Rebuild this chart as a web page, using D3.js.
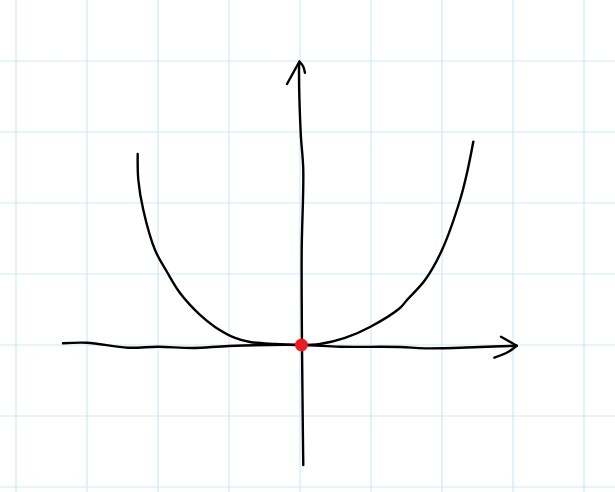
<!DOCTYPE html>
<html>
<head>
<meta charset="utf-8">
<script src="https://cdn.jsdelivr.net/npm/d3@7"></script>
<style>
html,body{margin:0;padding:0;background:#fff;}
svg{display:block;}
</style>
</head>
<body>
<svg id="chart" width="615" height="492"></svg>
<script>
// Grid lines (in grid units)
const gridX = [-4, -3, -2, -1, 0, 1, 2, 3, 4];
const gridY = [-2, -1, 0, 1, 2, 3, 4];

// Hand-drawn curve: left branch and right branch (grid units)
const leftBranch = [
  [-2.286, 2.690], [-2.277, 2.324], [-2.207, 1.901], [-2.042, 1.338],
  [-1.873, 1.028], [-1.690, 0.732], [-1.408, 0.423], [-1.197, 0.254],
  [-0.915, 0.099], [-0.704, 0.042], [-0.352, 0.014], [0, 0]
];
const rightBranch = [
  [0, 0], [0.282, 0.014], [0.634, 0.099], [0.986, 0.254], [1.408, 0.521],
  [1.507, 0.634], [1.761, 0.915], [2.0, 1.338], [2.254, 2.042],
  [2.352, 2.423], [2.441, 2.863]
];

// Hand-drawn axes
const xAxisLine = [
  [-3.338, 0.024], [-3.0, 0.032], [-2.423, -0.038], [-2.0, -0.024],
  [-1.507, -0.042], [-1.0, -0.014], [0, 0], [0.563, -0.024],
  [1.408, -0.028], [1.761, -0.047], [2.535, -0.028], [3.052, -0.010]
];
const xArrowUpper = [[2.831, 0.117], [3.052, -0.010]];
const xArrowLower = [[3.052, -0.010], [2.930, -0.099], [2.737, -0.179]];
const yAxisLine = [
  [0.046, -1.690], [0.038, -1.010], [0.028, 0], [0.024, 1.338],
  [0.046, 2.465], [0.010, 2.986], [-0.014, 3.873], [-0.010, 3.990]
];
const yArrowLeft = [[-0.183, 3.676], [-0.010, 3.990]];
const yArrowRight = [[-0.010, 3.990], [0.042, 3.930], [0.070, 3.835]];

// Highlighted point
const points = [[0.02, 0]];

const svg = d3.select("#chart");
const x = d3.scaleLinear().domain([-4, 4]).range([16, 584]);
const y = d3.scaleLinear().domain([-2, 4]).range([487, 61]);

svg.append("rect").attr("width", 615).attr("height", 492).attr("fill", "#fff");

const grid = svg.append("g").attr("stroke", "#cdeaf8").attr("stroke-width", 1.2);
grid.selectAll("line.gx").data(gridX).join("line")
  .attr("x1", d => x(d)).attr("x2", d => x(d))
  .attr("y1", 0).attr("y2", 492);
grid.selectAll("line.gy").data(gridY).join("line")
  .attr("x1", 0).attr("x2", 615)
  .attr("y1", d => y(d)).attr("y2", d => y(d));

const line = d3.line().x(d => x(d[0])).y(d => y(d[1])).curve(d3.curveCatmullRom.alpha(0.5));

const strokes = [xAxisLine, xArrowUpper, xArrowLower, yAxisLine, yArrowLeft, yArrowRight, leftBranch, rightBranch];
svg.append("g").selectAll("path").data(strokes).join("path")
  .attr("d", line)
  .attr("fill", "none")
  .attr("stroke", "#000")
  .attr("stroke-width", 2.4)
  .attr("stroke-linecap", "round")
  .attr("stroke-linejoin", "round");

svg.selectAll("circle").data(points).join("circle")
  .attr("cx", d => x(d[0])).attr("cy", d => y(d[1]))
  .attr("r", 6.5).attr("fill", "#ec1c24");
</script>
</body>
</html>
